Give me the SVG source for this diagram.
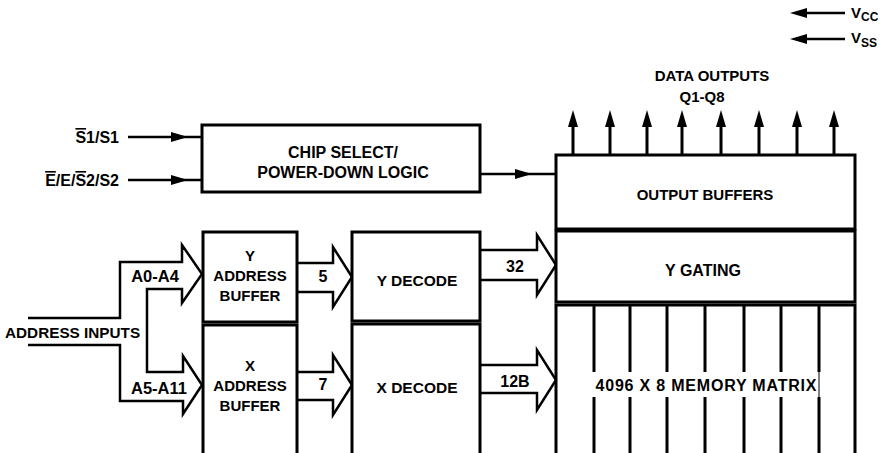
<svg xmlns="http://www.w3.org/2000/svg" xmlns:xlink="http://www.w3.org/1999/xlink" width="894" height="453" viewBox="0 0 894 453">
<style>
.box{fill:#fff;stroke:#000;stroke-width:3}
.ln{fill:none;stroke:#000;stroke-width:2.5}
.bus{fill:none;stroke:#000;stroke-width:2.5;stroke-linejoin:miter}
.col{stroke:#000;stroke-width:3}
.t{font-family:"Liberation Sans",Arial,Helvetica,sans-serif;font-weight:bold;font-size:15px;fill:#000;text-anchor:middle}
.l{font-size:16px}
.ts{text-anchor:start}
.te{text-anchor:end}
.ov{text-decoration:overline}
</style>
<defs>
<path id="ah" d="M0,0 L-17,-5 L-17,5 Z" fill="#000"/>
</defs>
<rect width="894" height="453" fill="#fff"/>

<g id="connectors">
  <!-- Vcc / Vss -->
  <line class="ln" x1="845" y1="13" x2="805" y2="13"/>
  <use xlink:href="#ah" transform="translate(790,13) rotate(180)"/>
  <line class="ln" x1="845" y1="39" x2="805" y2="39"/>
  <use xlink:href="#ah" transform="translate(790,39) rotate(180)"/>
  <!-- chip select inputs -->
  <line class="ln" x1="128" y1="137" x2="202" y2="137"/>
  <use xlink:href="#ah" transform="translate(188,137)"/>
  <line class="ln" x1="128" y1="180" x2="202" y2="180"/>
  <use xlink:href="#ah" transform="translate(188,180)"/>
  <!-- chip select output -->
  <line class="ln" x1="480" y1="174" x2="556" y2="174"/>
  <use xlink:href="#ah" transform="translate(532,174)"/>
  <!-- data outputs -->
  <g>
    <line class="col" x1="573" y1="155" x2="573" y2="124"/><use xlink:href="#ah" transform="translate(573,110) rotate(-90)"/>
    <line class="col" x1="610" y1="155" x2="610" y2="124"/><use xlink:href="#ah" transform="translate(610,110) rotate(-90)"/>
    <line class="col" x1="647" y1="155" x2="647" y2="124"/><use xlink:href="#ah" transform="translate(647,110) rotate(-90)"/>
    <line class="col" x1="682" y1="155" x2="682" y2="124"/><use xlink:href="#ah" transform="translate(682,110) rotate(-90)"/>
    <line class="col" x1="721" y1="155" x2="721" y2="124"/><use xlink:href="#ah" transform="translate(721,110) rotate(-90)"/>
    <line class="col" x1="759" y1="155" x2="759" y2="124"/><use xlink:href="#ah" transform="translate(759,110) rotate(-90)"/>
    <line class="col" x1="797" y1="155" x2="797" y2="124"/><use xlink:href="#ah" transform="translate(797,110) rotate(-90)"/>
    <line class="col" x1="834" y1="155" x2="834" y2="124"/><use xlink:href="#ah" transform="translate(834,110) rotate(-90)"/>
  </g>
  <!-- address input bus -->
  <path class="bus" d="M28,318 L120,318 L120,262 L182,262 L182,245 L202,274 L182,303 L182,289 L147,289 L147,372 L183,372 L183,356 L202,385 L183,414 L183,401 L120,401 L120,345 L28,345"/>
  <!-- 5 -->
  <path class="bus" d="M297,263 L333,263 L333,247 L352,277 L333,307 L333,292 L297,292"/>
  <!-- 7 -->
  <path class="bus" d="M297,372 L333,372 L333,355 L352,385 L333,415 L333,400 L297,400"/>
  <!-- 32 -->
  <path class="bus" d="M480,250 L537,250 L537,235 L556,265 L537,295 L537,280 L480,280"/>
  <!-- 12B -->
  <path class="bus" d="M480,365 L537,365 L537,350 L556,380 L537,410 L537,393 L480,393"/>
</g>

<g id="power">
  <text class="t ts" x="851" y="18" style="font-size:15px">V<tspan dy="3" style="font-size:12px">CC</tspan></text>
  <text class="t ts" x="851" y="43" style="font-size:15px">V<tspan dy="4" style="font-size:12px">SS</tspan></text>
</g>

<g id="data-outputs-label">
  <text class="t" x="712" y="81">DATA OUTPUTS</text>
  <text class="t" x="702" y="102">Q1-Q8</text>
</g>

<g id="chip-select-inputs">
  <text class="t te l" x="119" y="143"><tspan class="ov">S</tspan>1/S1</text>
  <text class="t te l" x="119" y="186"><tspan class="ov">E</tspan>/E/<tspan class="ov">S</tspan>2/S2</text>
</g>

<g id="address-inputs">
  <text class="t ts" x="5" y="338" style="font-size:15.3px">ADDRESS INPUTS</text>
  <text class="t" x="155" y="282" style="font-size:16.5px">A0-A4</text>
  <text class="t" x="159" y="394" style="font-size:16.5px">A5-A11</text>
</g>

<g id="chip-select">
  <rect class="box" x="202" y="125" width="278" height="67"/>
  <text class="t l" x="343" y="158">CHIP SELECT/</text>
  <text class="t l" x="343" y="178">POWER-DOWN LOGIC</text>
</g>

<g id="y-address-buffer">
  <rect class="box" x="203" y="232" width="94" height="90"/>
  <text class="t" x="250" y="261">Y</text>
  <text class="t" x="250" y="281">ADDRESS</text>
  <text class="t" x="250" y="301">BUFFER</text>
</g>

<g id="x-address-buffer">
  <rect class="box" x="203" y="325" width="94" height="132"/>
  <text class="t" x="250" y="371">X</text>
  <text class="t" x="250" y="391">ADDRESS</text>
  <text class="t" x="250" y="411">BUFFER</text>
</g>

<g id="label-5"><text class="t l" x="323" y="282">5</text></g>
<g id="label-7"><text class="t l" x="323" y="390">7</text></g>

<g id="y-decode">
  <rect class="box" x="352" y="232" width="128" height="89"/>
  <text class="t" x="417" y="286" style="font-size:15.5px">Y DECODE</text>
</g>

<g id="x-decode">
  <rect class="box" x="352" y="324" width="128" height="133"/>
  <text class="t" x="417" y="393" style="font-size:15.5px">X DECODE</text>
</g>

<g id="label-32"><text class="t l" x="515" y="272">32</text></g>
<g id="label-128"><text class="t l" x="515" y="387">12B</text></g>

<g id="output-buffers">
  <rect class="box" x="556" y="155" width="299" height="74"/>
  <text class="t" x="705" y="200">OUTPUT BUFFERS</text>
</g>

<g id="y-gating">
  <rect class="box" x="556" y="231" width="299" height="71"/>
  <text class="t l" x="703" y="276">Y GATING</text>
</g>

<g id="memory-matrix">
  <rect class="box" x="556" y="305" width="299" height="155"/>
  <g>
    <line class="col" x1="594" y1="305" x2="594" y2="372"/><line class="col" x1="594" y1="397" x2="594" y2="453"/>
    <line class="col" x1="630" y1="305" x2="630" y2="372"/><line class="col" x1="630" y1="397" x2="630" y2="453"/>
    <line class="col" x1="667" y1="305" x2="667" y2="372"/><line class="col" x1="667" y1="397" x2="667" y2="453"/>
    <line class="col" x1="705" y1="305" x2="705" y2="372"/><line class="col" x1="705" y1="397" x2="705" y2="453"/>
    <line class="col" x1="744" y1="305" x2="744" y2="372"/><line class="col" x1="744" y1="397" x2="744" y2="453"/>
    <line class="col" x1="781" y1="305" x2="781" y2="372"/><line class="col" x1="781" y1="397" x2="781" y2="453"/>
    <line class="col" x1="819" y1="305" x2="819" y2="372"/><line class="col" x1="819" y1="397" x2="819" y2="453"/>
    <line x1="819" y1="372" x2="819" y2="397" stroke="#000" stroke-width="1"/>
  </g>
  <text class="t l" x="706" y="391" textLength="221" lengthAdjust="spacing">4096 X 8 MEMORY MATRIX</text>
</g>
</svg>
